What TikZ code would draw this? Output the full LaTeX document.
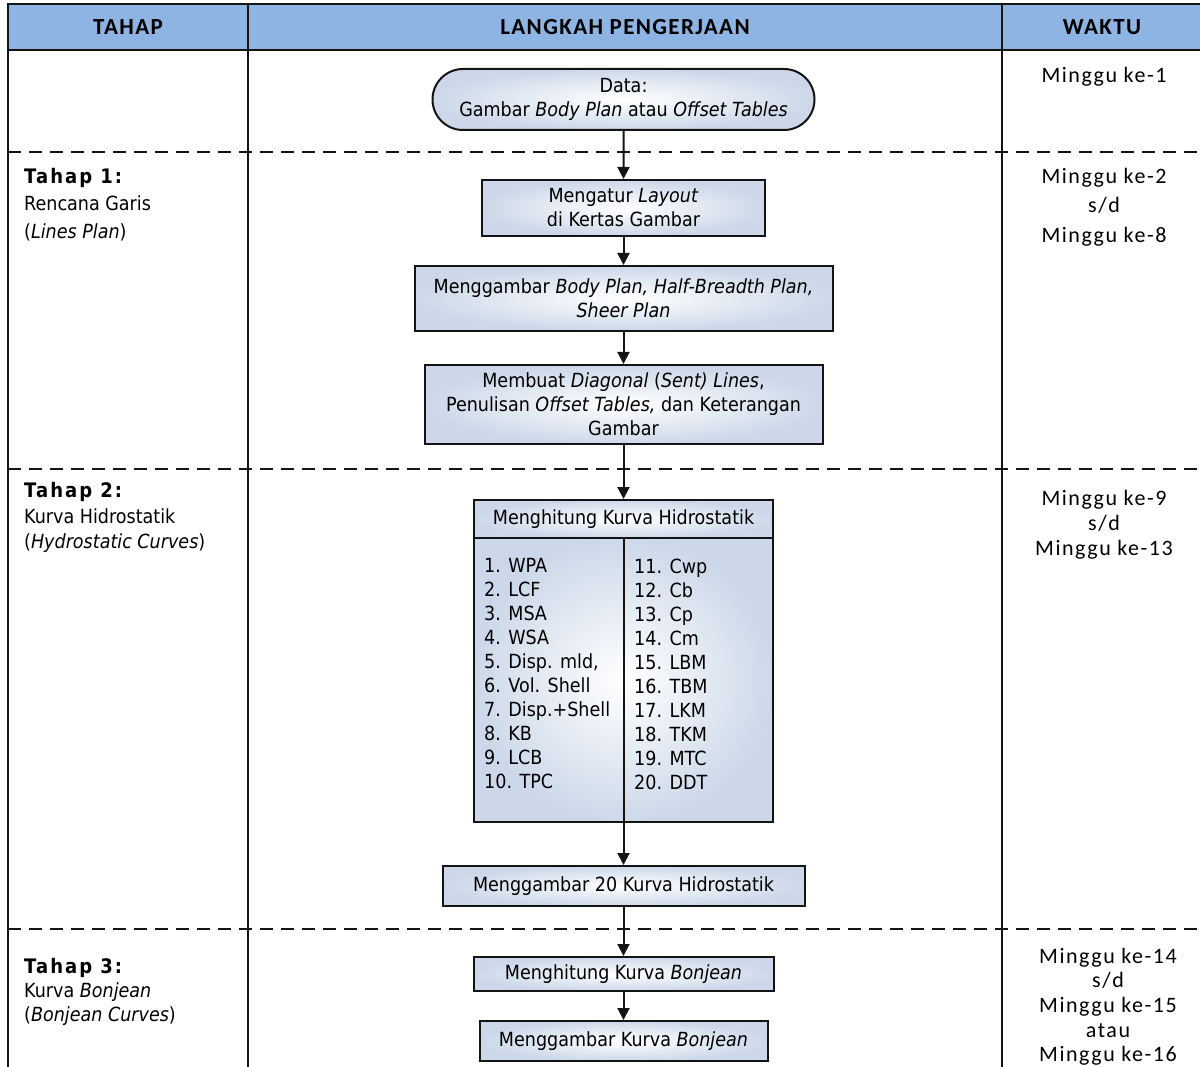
\documentclass[tikz,border=0pt]{standalone}
\usepackage{fontspec}
\setmainfont[FakeStretch=0.9]{DejaVu Sans}
\newfontfamily\calfont[LetterSpace=7]{Carlito}
\newfontfamily\calhfont[LetterSpace=6]{Carlito}
\usetikzlibrary{shapes.misc,arrows.meta}
\definecolor{hdrc}{RGB}{141,180,226}
\definecolor{boxc}{RGB}{204,216,233}
\definecolor{linec}{RGB}{20,20,20}
\tikzset{
  frame/.style={draw=linec,line width=2.2pt},
  sep/.style={draw=linec,line width=1.8pt,dash pattern=on 13pt off 8pt},
  hdrtext/.style={font=\calhfont\bfseries\fontsize{23}{24}\selectfont},
  box/.style={draw=linec,line width=2pt,inner color=white,outer color=boxc,
    align=center,inner sep=0pt,font=\fontsize{19.5}{24}\selectfont},
  arr/.style={draw=linec,line width=2pt,-{Triangle[length=12pt,width=12pt]}},
  plain/.style={draw=linec,line width=2pt},
  stagehead/.style={anchor=base west,inner sep=0pt,font=\addfontfeature{LetterSpace=10}\bfseries\fontsize{20}{24}\selectfont},
  stagetext/.style={anchor=base west,inner sep=0pt,font=\fontsize{19.5}{24}\selectfont},
  waktu/.style={anchor=base,inner sep=0pt,font=\calfont\fontsize{22}{24}\selectfont},
  listcol/.style={anchor=west,align=left,inner sep=0pt,font=\fontsize{19.5}{24}\selectfont}
}
\begin{document}
\begin{tikzpicture}[x=1pt,y=-1pt]
\useasboundingbox (0,0) rectangle (1200,1067);
% header band
\fill[hdrc] (8,4) rectangle (1200,50);
\draw[frame] (8,1067) -- (8,4) -- (1200,4);
\draw[frame] (8,50) -- (1200,50);
\draw[frame] (248,4) -- (248,1067);
\draw[frame] (1002,4) -- (1002,1067);
\node[hdrtext] (h1) at (128,27) {TAHAP};
\node[hdrtext] (h2) at (625,27) {LANGKAH PENGERJAAN};
\node[hdrtext] (h3) at (1102,27) {WAKTU};
% dashed separators
\draw[sep] (8,152) -- (1200,152);
\draw[sep] (8,469) -- (1200,469);
\draw[sep] (8,929) -- (1200,929);
% flow
\node[box,rounded rectangle,minimum width=382pt,minimum height=61pt] (data) at (623.5,99.5)
  {Data:\\Gambar \textit{Body Plan} atau \textit{Offset Tables}};
\node[box,minimum width=283pt,minimum height=56pt] (layout) at (623.5,208)
  {Mengatur \textit{Layout}\\di Kertas Gambar};
\node[box,minimum width=418pt,minimum height=65pt] (body) at (623.5,298.5)
  {Menggambar \textit{Body Plan, Half-Breadth Plan,}\\\textit{Sheer Plan}};
\node[box,minimum width=398pt,minimum height=79pt] (diag) at (623.5,404.5)
  {Membuat \textit{Diagonal} (\textit{Sent) Lines},\\Penulisan \textit{Offset Tables,} dan Keterangan\\Gambar};
\node[box,minimum width=299pt,minimum height=38pt] (hhead) at (623.5,519)
  {Menghitung Kurva Hidrostatik};
\node[box,minimum width=299pt,minimum height=284pt] (hbody) at (623.5,680) {};
\draw[plain] (hhead.south) -- (hbody.south);
\node[listcol] (lista) at (484,674)
  {1. WPA\\2. LCF\\3. MSA\\4. WSA\\5. Disp. mld,\\6. Vol. Shell\\7. Disp.+Shell\\8. KB\\9. LCB\\10. TPC};
\node[listcol] (listb) at (634,674)
  {11. Cwp\\12. Cb\\13. Cp\\14. Cm\\15. LBM\\16. TBM\\17. LKM\\18. TKM\\19. MTC\\20. DDT};
\node[box,minimum width=362pt,minimum height=40pt] (draw20) at (623.5,886)
  {Menggambar 20 Kurva Hidrostatik};
\node[box,minimum width=300pt,minimum height=34pt] (bonj1) at (623.5,974)
  {Menghitung Kurva \textit{Bonjean}};
\node[box,minimum width=288pt,minimum height=40pt] (bonj2) at (623.5,1041)
  {Menggambar Kurva \textit{Bonjean}};
\draw[arr] (data) -- (layout);
\draw[arr] (layout) -- (body);
\draw[arr] (body) -- (diag);
\draw[arr] (diag) -- (hhead);
\draw[arr] (hbody.south) -- (draw20.north);
\draw[arr] (draw20) -- (bonj1);
\draw[arr] (bonj1) -- (bonj2);
% stage column
\node[stagehead] (s1a) at (24,184) {Tahap 1:};
\node[stagetext] (s1b) at (24,211) {Rencana Garis};
\node[stagetext] (s1c) at (24,239) {(\textit{Lines Plan})};
\node[stagehead] (s2a) at (24,497) {Tahap 2:};
\node[stagetext] (s2b) at (24,523) {Kurva Hidrostatik};
\node[stagetext] (s2c) at (24,548) {(\textit{Hydrostatic Curves})};
\node[stagehead] (s3a) at (24,973) {Tahap 3:};
\node[stagetext] (s3b) at (24,997) {Kurva \textit{Bonjean}};
\node[stagetext] (s3c) at (24,1021) {(\textit{Bonjean Curves})};
% time column
\node[waktu] (w1) at (1104,83) {Minggu ke-1};
\node[waktu] (w2a) at (1104,184) {Minggu ke-2};
\node[waktu] (w2b) at (1104,213) {s/d};
\node[waktu] (w2c) at (1104,243) {Minggu ke-8};
\node[waktu] (w3a) at (1104,505) {Minggu ke-9};
\node[waktu] (w3b) at (1104,530) {s/d};
\node[waktu] (w3c) at (1104,555) {Minggu ke-13};
\node[waktu] (w4a) at (1108,963) {Minggu ke-14};
\node[waktu] (w4b) at (1108,987) {s/d};
\node[waktu] (w4c) at (1108,1012) {Minggu ke-15};
\node[waktu] (w4d) at (1108,1037) {atau};
\node[waktu] (w4e) at (1108,1061) {Minggu ke-16};
\end{tikzpicture}
\end{document}
